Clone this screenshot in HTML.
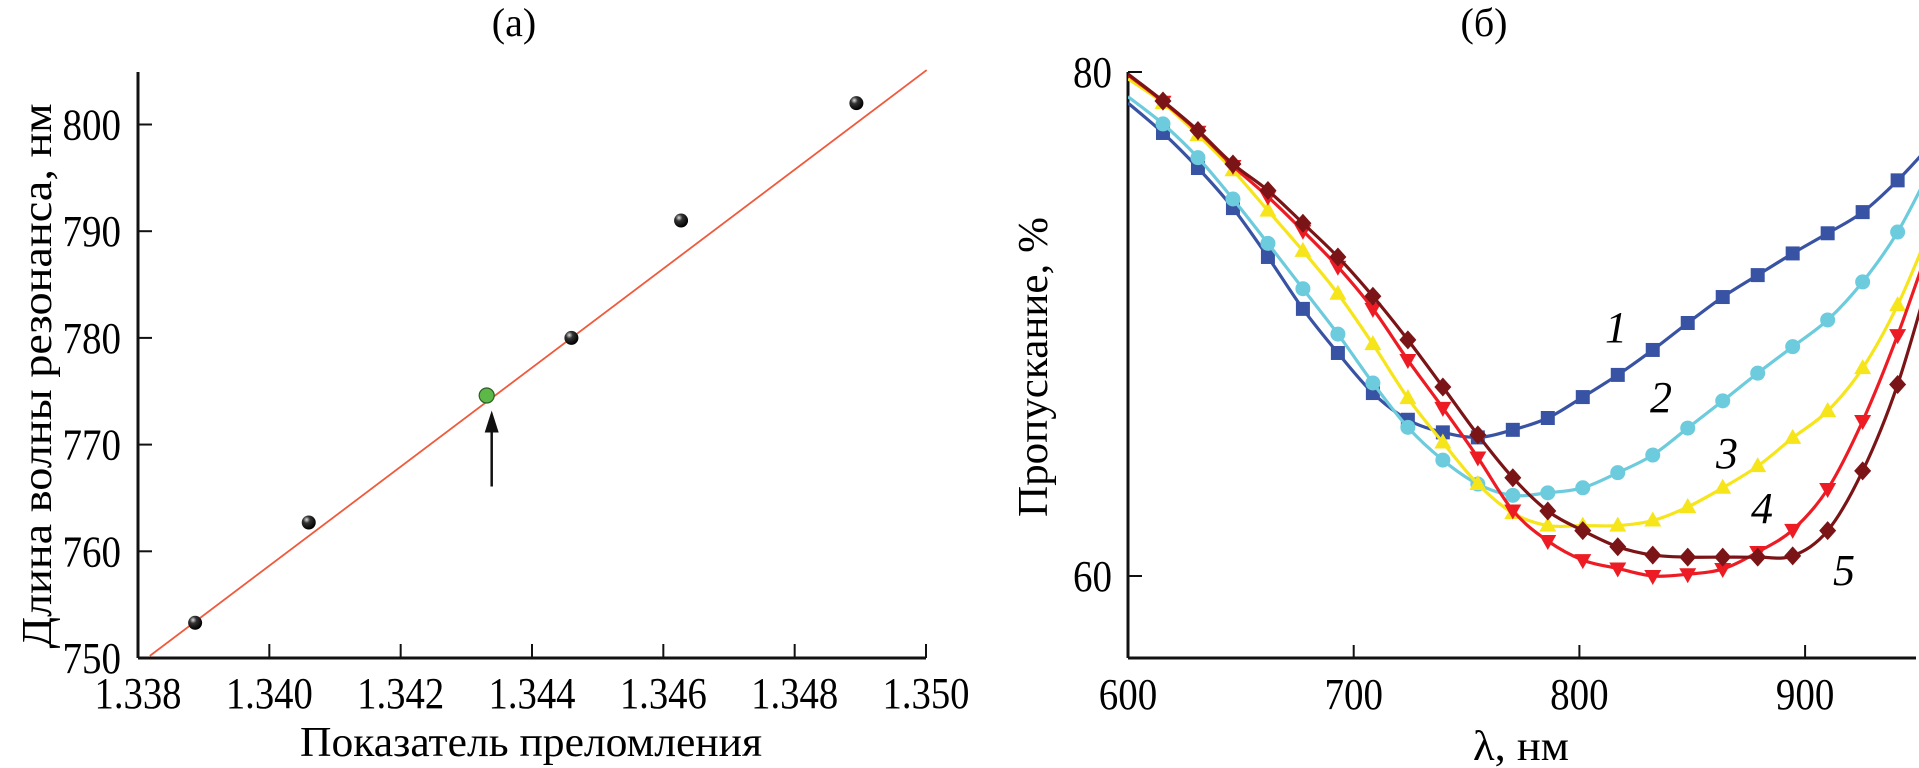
<!DOCTYPE html>
<html><head><meta charset="utf-8">
<style>
html,body{margin:0;padding:0;background:#fff;}
svg{display:block;font-family:"Liberation Serif","DejaVu Serif",serif;}
</style></head>
<body>
<svg id="fig" width="1919" height="768" viewBox="0 0 1919 768" xmlns="http://www.w3.org/2000/svg">
<defs>
<radialGradient id="ball" cx="35%" cy="30%" r="70%">
<stop offset="0" stop-color="#ddd"/><stop offset="0.35" stop-color="#333"/><stop offset="1" stop-color="#000"/>
</radialGradient>
<clipPath id="clipB"><rect x="1128" y="40" width="791" height="618"/></clipPath>
</defs>
<g id="chartA"></g>
<g id="chartB"></g>
</svg>
<script>
// ---------- Chart (a) data ----------
const aIndex = [1.33887, 1.3406, 1.34627, 1.3446, 1.34894];
const aWavelength = [753.3, 762.7, 791.0, 780.0, 802.0];
const aHighlightIndex = [1.34331];
const aHighlightWavelength = [774.6];
const aFitIndex = [1.33818, 1.35001];
const aFitWavelength = [750.2, 805.1];
const aXTicks = [1.338, 1.340, 1.342, 1.344, 1.346, 1.348, 1.350];
const aXTickLabels = ["1.338","1.340","1.342","1.344","1.346","1.348","1.350"];
const aYTicks = [750, 760, 770, 780, 790, 800];
const aYTickLabels = ["750","760","770","780","790","800"];

// ---------- Chart (б) data ----------
const bStart = 600, bStep = 15.5;
const bTicksX = [600, 700, 800, 900];
const bTickLabelsX = ["600","700","800","900"];
const bTicksY = [60, 80];
const bTickLabelsY = ["60","80"];
const s1 = [78.77,77.58,76.19,74.6,72.66,70.6,68.85,67.26,66.2,65.7,65.5,65.8,66.27,67.1,67.98,68.97,70.04,71.07,71.94,72.8,73.6,74.44,75.7,77.2];
const s2 = [79.02,77.94,76.6,74.96,73.2,71.4,69.6,67.66,65.9,64.6,63.65,63.2,63.3,63.5,64.1,64.8,65.87,66.95,68.05,69.1,70.16,71.67,73.65,76.3];
const s3 = [79.73,78.77,77.5,76.1,74.5,72.9,71.2,69.2,67.06,65.3,63.65,62.5,62.0,62.0,62.0,62.2,62.74,63.5,64.36,65.48,66.55,68.25,70.75,74.0];
const s4 = [79.88,78.82,77.63,76.27,75.05,73.7,72.27,70.6,68.57,66.67,64.7,62.6,61.39,60.63,60.3,60.0,60.07,60.28,60.95,61.83,63.45,66.15,69.56,73.5];
const s5 = [79.92,78.85,77.68,76.35,75.3,74.0,72.66,71.1,69.37,67.5,65.6,63.9,62.58,61.8,61.16,60.83,60.75,60.75,60.75,60.8,61.8,64.17,67.6,72.3];
const seriesNames = ["1","2","3","4","5"];

const NS = "http://www.w3.org/2000/svg";
function mk(parent, tag, attrs, text){
  const e = document.createElementNS(NS, tag);
  for (const k in attrs) e.setAttribute(k, attrs[k]);
  if (text !== undefined) e.textContent = text;
  parent.appendChild(e);
  return e;
}
function numWidth(s){ let w=0; for (const ch of s) w += (ch==='.') ? 9 : 19.5; return w; }

// ===== Chart (a) =====
(function(){
  const g = document.getElementById('chartA');
  const x0 = 138, x1 = 926, y0 = 658, yTop = 72;
  const ax = v => x0 + (v - 1.338) / 0.012 * (x1 - x0);
  const ay = v => y0 - (v - 750) * 10.67;
  let t = mk(g,'text',{x:514,y:36,'font-size':40,'text-anchor':'middle'},'(а)');
   
  let l = mk(g,'line',{x1:x0,y1:yTop,x2:x0,y2:y0,stroke:'#111','stroke-width':3});
   
  l = mk(g,'line',{x1:x0,y1:y0,x2:x1,y2:y0,stroke:'#111','stroke-width':3});
   
  aXTicks.forEach((v,i)=>{
    const tk = mk(g,'line',{x1:ax(v),y1:y0,x2:ax(v),y2:y0-14,stroke:'#111','stroke-width':2});
     
    const tl = mk(g,'text',{x:ax(v),y:708,'font-size':44,'text-anchor':'middle',textLength:numWidth(aXTickLabels[i]),lengthAdjust:'spacingAndGlyphs'},aXTickLabels[i]);
     
  });
  aYTicks.forEach((v,i)=>{
    const tk = mk(g,'line',{x1:x0,y1:ay(v),x2:x0+14,y2:ay(v),stroke:'#111','stroke-width':2});
     
    const tl = mk(g,'text',{x:121,y:ay(v)+15,'font-size':44,'text-anchor':'end',textLength:numWidth(aYTickLabels[i]),lengthAdjust:'spacingAndGlyphs'},aYTickLabels[i]);
     
  });
  t = mk(g,'text',{x:531,y:756,'font-size':42,'text-anchor':'middle',textLength:462,lengthAdjust:'spacingAndGlyphs'},'Показатель преломления');
   
  t = mk(g,'text',{x:0,y:0,'font-size':42,'text-anchor':'middle',textLength:545,lengthAdjust:'spacingAndGlyphs',transform:'translate(51,376) rotate(-90)'},'Длина волны резонанса, нм');
   
  const fit = mk(g,'line',{x1:ax(aFitIndex[0]),y1:ay(aFitWavelength[0]),x2:ax(aFitIndex[1]),y2:ay(aFitWavelength[1]),stroke:'#f05a3c','stroke-width':1.8});
   
  aIndex.forEach((v,i)=>{
    const c = mk(g,'circle',{cx:ax(v),cy:ay(aWavelength[i]),r:7,fill:'url(#ball)'});
     
  });
  aHighlightIndex.forEach((v,i)=>{
    const c = mk(g,'circle',{cx:ax(v),cy:ay(aHighlightWavelength[i]),r:7.5,fill:'#5cb948',stroke:'#2f5a25','stroke-width':1.2});
     
    const ar = mk(g,'line',{x1:ax(v)+5,y1:ay(aHighlightWavelength[i])+91,x2:ax(v)+5,y2:ay(aHighlightWavelength[i])+30,stroke:'#111','stroke-width':2.5});
     
    const ah = mk(g,'path',{d:`M${ax(v)+5} ${ay(aHighlightWavelength[i])+15} l-7 22 l14 0 z`,fill:'#111'});
     
  });
})();

// ===== Chart (б) =====
(function(){
  const g = document.getElementById('chartB');
  const x0 = 1128, xEnd = 1916, y0 = 658, yTop = 72;
  const bx = v => x0 + (v - 600) * 2.257;
  const by = v => 576 - (v - 60) * 25.2;
  let t = mk(g,'text',{x:1484,y:36,'font-size':40,'text-anchor':'middle'},'(б)');
   
  let l = mk(g,'line',{x1:x0,y1:yTop,x2:x0,y2:y0,stroke:'#111','stroke-width':3});
   
  l = mk(g,'line',{x1:x0,y1:y0,x2:xEnd,y2:y0,stroke:'#111','stroke-width':3});
   
  bTicksX.forEach((v,i)=>{
    const tk = mk(g,'line',{x1:bx(v),y1:y0,x2:bx(v),y2:y0-13,stroke:'#111','stroke-width':2});
     
    const tl = mk(g,'text',{x:bx(v),y:709,'font-size':44,'text-anchor':'middle',textLength:numWidth(bTickLabelsX[i]),lengthAdjust:'spacingAndGlyphs'},bTickLabelsX[i]);
     
  });
  bTicksY.forEach((v,i)=>{
    const tk = mk(g,'line',{x1:x0,y1:by(v),x2:x0+14,y2:by(v),stroke:'#111','stroke-width':2});
     
    const tl = mk(g,'text',{x:1112,y:by(v)+15,'font-size':44,'text-anchor':'end',textLength:numWidth(bTickLabelsY[i]),lengthAdjust:'spacingAndGlyphs'},bTickLabelsY[i]);
     
  });
  t = mk(g,'text',{x:1521,y:760,'font-size':42,'text-anchor':'middle',textLength:96,lengthAdjust:'spacingAndGlyphs'},'λ, нм');
   
  t = mk(g,'text',{x:0,y:0,'font-size':42,'text-anchor':'middle',textLength:300,lengthAdjust:'spacingAndGlyphs',transform:'translate(1047,367) rotate(-90)'},'Пропускание, %');
   

  const plot = mk(g,'g',{'clip-path':'url(#clipB)'});
   
  const all = [s1,s2,s3,s4,s5];
  const colors = ['#3953a4','#6ccbdc','#f6e51b','#ed1c24','#7b1416'];
  const shapes = ['square','circle','tri-up','tri-down','diamond'];
  all.forEach((s,si)=>{
    const pts = s.map((v,k)=>[bx(bStart + k*bStep), by(v)]);
    let d = `M${pts[0][0]} ${pts[0][1]}`;
    for (let i=0;i<pts.length-1;i++){
      const p0 = pts[Math.max(0,i-1)], p1 = pts[i], p2 = pts[i+1], p3 = pts[Math.min(pts.length-1,i+2)];
      const c1x = p1[0]+(p2[0]-p0[0])/6, c1y = p1[1]+(p2[1]-p0[1])/6;
      const c2x = p2[0]-(p3[0]-p1[0])/6, c2y = p2[1]-(p3[1]-p1[1])/6;
      d += ` C${c1x} ${c1y} ${c2x} ${c2y} ${p2[0]} ${p2[1]}`;
    }
    const sg = mk(plot,'g',{});
     
    const path = mk(sg,'path',{d:d,fill:'none',stroke:colors[si],'stroke-width':3.2});
     
    pts.forEach((p,k)=>{
      if (k===0) return;
      const [x,y] = p; let m;
      if (shapes[si]==='square') m = mk(sg,'rect',{x:x-7,y:y-7,width:14,height:14,fill:colors[si]});
      else if (shapes[si]==='circle') m = mk(sg,'circle',{cx:x,cy:y,r:7.5,fill:colors[si]});
      else if (shapes[si]==='tri-up') m = mk(sg,'path',{d:`M${x} ${y-9} L${x+8.5} ${y+6} L${x-8.5} ${y+6} Z`,fill:colors[si]});
      else if (shapes[si]==='tri-down') m = mk(sg,'path',{d:`M${x} ${y+9} L${x+8.5} ${y-6} L${x-8.5} ${y-6} Z`,fill:colors[si]});
      else m = mk(sg,'path',{d:`M${x} ${y-9.5} L${x+8.5} ${y} L${x} ${y+9.5} L${x-8.5} ${y} Z`,fill:colors[si]});
       
    });
  });
  const labelPos = [[1616,342],[1661,412],[1727,468],[1762,523],[1844,585]];
  seriesNames.forEach((n,i)=>{
    const tl = mk(g,'text',{x:labelPos[i][0],y:labelPos[i][1],'font-size':44,'font-style':'italic','text-anchor':'middle'},n);
     
  });
})();
</script>
</body></html>
